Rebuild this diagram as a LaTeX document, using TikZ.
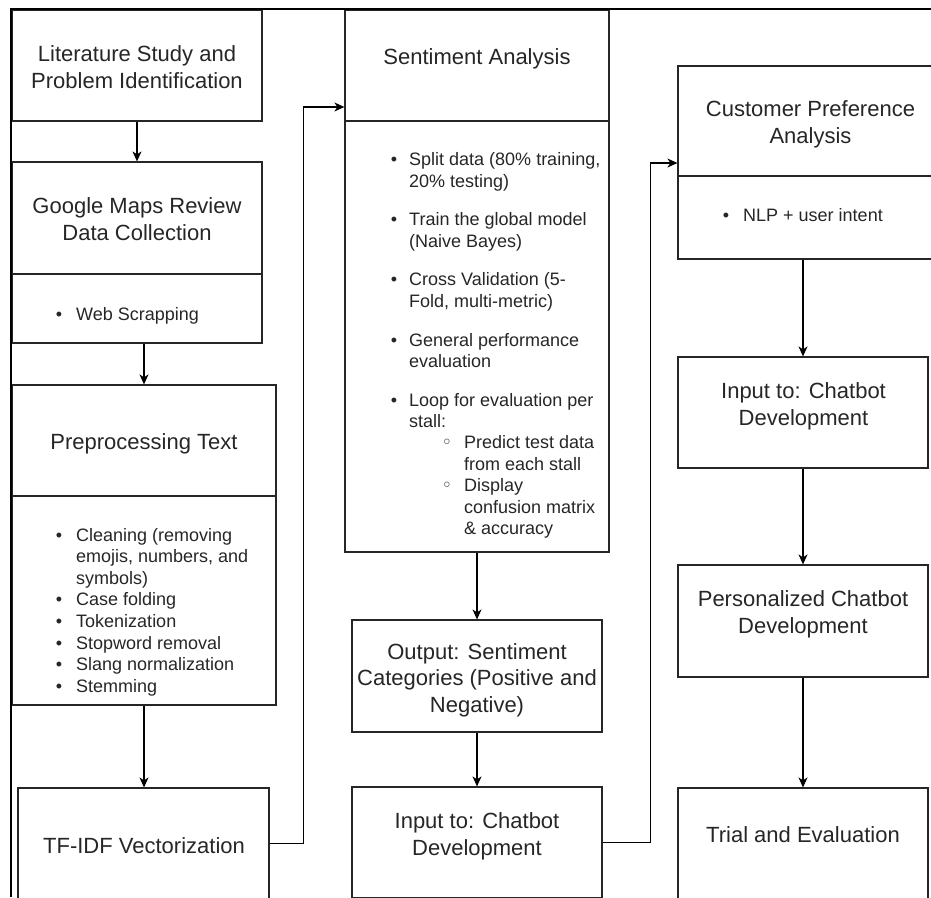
\documentclass[tikz,border=0pt]{standalone}
\usepackage{fontspec}
\setmainfont{Liberation Sans}
\newfontfamily\dvfont{DejaVu Sans}
\usetikzlibrary{arrows.meta}
\begin{document}
\begin{tikzpicture}[x=1pt,y=-1pt,
  box/.style={draw=black!85, line width=1.2pt, inner sep=0pt, rectangle},
  hd/.style={font=\fontsize{22}{26.4}\selectfont, text=black!85, anchor=base, inner sep=0pt},
  li/.style={font=\fontsize{18}{21.6}\selectfont, text=black!85, anchor=base west, inner sep=0pt},
  bul/.style={font=\fontsize{18}{21.6}\selectfont, text=black!85, anchor=base, inner sep=0pt},
  sbul/.style={font=\dvfont\fontsize{18}{20}\selectfont, text=black!85, anchor=base, inner sep=0pt},
  arr/.style={-{Stealth[length=10pt,width=9pt,inset=3pt]}, line width=1.2pt, draw=black},
]
\useasboundingbox (0,0) rectangle (931,897);

% boxes
\node[box, minimum width=250, minimum height=111] (lit) at (137,65.5) {};
\node[box, minimum width=250, minimum height=112] (gmh) at (137,218) {};
\node[box, minimum width=250, minimum height=69] (gmb) at (137,308.5) {};
\node[box, minimum width=264, minimum height=111] (preh) at (144,440.5) {};
\node[box, minimum width=264, minimum height=209] (preb) at (144,600.5) {};
\node[box, minimum width=251, minimum height=111] (tfidf) at (143.5,843.5) {};
\node[box, minimum width=264, minimum height=111] (sah) at (477,65.5) {};
\node[box, minimum width=264, minimum height=431] (sab) at (477,336.5) {};
\node[box, minimum width=250, minimum height=112] (out) at (477,676) {};
\node[box, minimum width=250, minimum height=111] (inA) at (477,842.5) {};
\node[box, minimum width=265, minimum height=110] (cph) at (810.5,121) {};
\node[box, minimum width=265, minimum height=83] (cpb) at (810.5,217.5) {};
\node[box, minimum width=250, minimum height=111] (inB) at (803,412.5) {};
\node[box, minimum width=250, minimum height=112] (per) at (803,621) {};
\node[box, minimum width=250, minimum height=111] (trial) at (803,843.5) {};

% frame
\draw[line width=2.5pt, draw=black] (11,897) -- (11,9) -- (931,9);

% header texts
\node[hd] (tlitA) at (137,61) {Literature Study and};
\node[hd] (tlitB) at (137,88) {Problem Identification};
\node[hd] (tgmA) at (137,213) {Google Maps Review};
\node[hd] (tgmB) at (137,240.5) {Data Collection};
\node[hd] (tpre) at (144,449) {Preprocessing Text};
\node[hd] (ttf) at (144,853) {TF-IDF Vectorization};
\node[hd] (tsa) at (477,64) {Sentiment Analysis};
\node[hd] (toutA) at (477,659) {Output: Sentiment};
\node[hd] (toutB) at (477,685.5) {Categories (Positive and};
\node[hd] (toutC) at (477,712) {Negative)};
\node[hd] (tinAA) at (477,828) {Input to: Chatbot};
\node[hd] (tinAB) at (477,855) {Development};
\node[hd] (tcpA) at (810.5,116) {Customer Preference};
\node[hd] (tcpB) at (810.5,143) {Analysis};
\node[hd] (tinBA) at (803.5,398) {Input to: Chatbot};
\node[hd] (tinBB) at (803.5,425) {Development};
\node[hd] (tperA) at (803,606.5) {Personalized Chatbot};
\node[hd] (tperB) at (803,633) {Development};
\node[hd] (ttr) at (803,842) {Trial and Evaluation};

% Google Maps list
\node[bul] (bgm) at (59,320) {•};
\node[li] (lgm) at (76,320) {Web Scrapping};

% Preprocessing list
\foreach \y [count=\i] in {541,605.8,627.4,649,670.6,692.2}
  \node[bul] (bp\i) at (59,\y) {•};
\foreach \y/\t [count=\i] in {541/{Cleaning (removing},562.6/{emojis, numbers, and},584.2/{symbols)},605.8/{Case folding},627.4/{Tokenization},649/{Stopword removal},670.6/{Slang normalization},692.2/{Stemming}}
  \node[li] (lp\i) at (76,\y) {\t};

% Sentiment list
\foreach \y [count=\i] in {165.5,225.5,285.5,346,406}
  \node[bul] (bs\i) at (394,\y) {•};
\foreach \y/\t [count=\i] in {165.5/{Split data (80\% training,},187/{20\% testing)},225.5/{Train the global model},247/{(Naive Bayes)},285.5/{Cross Validation (5-},307/{Fold, multi-metric)},346/{General performance},367.5/{evaluation},406/{Loop for evaluation per},427.5/{stall:}}
  \node[li] (ls\i) at (409,\y) {\t};
\node[sbul] (bsa) at (447,448.5) {◦};
\node[sbul] (bsb) at (447,491.5) {◦};
\foreach \y/\t [count=\i] in {448.5/{Predict test data},470/{from each stall},491.5/{Display},513/{confusion matrix},534.5/{\& accuracy}}
  \node[li] (lss\i) at (464,\y) {\t};

% Customer list
\node[bul] (bcp) at (726,221.5) {•};
\node[li] (lcp) at (743,221.5) {NLP + user intent};

% connectors
\draw[arr] (lit.south) -- (gmh.north);
\draw[arr] (gmb.south -| preh.north) -- (preh.north);
\draw[arr] (preb.south) -- (preb.south |- tfidf.north);
\draw[arr] (tfidf.east) -- ++(34,0) |- ([yshift=-41.5pt]sah.west);
\draw[arr] (sab.south) -- (out.north);
\draw[arr] (out.south) -- (inA.north);
\draw[arr] (inA.east) -- ++(48,0) |- ([yshift=-42pt]cph.west);
\draw[arr] (cpb.south -| inB.north) -- (inB.north);
\draw[arr] (inB.south) -- (per.north);
\draw[arr] (per.south) -- (trial.north);
\end{tikzpicture}
\end{document}
